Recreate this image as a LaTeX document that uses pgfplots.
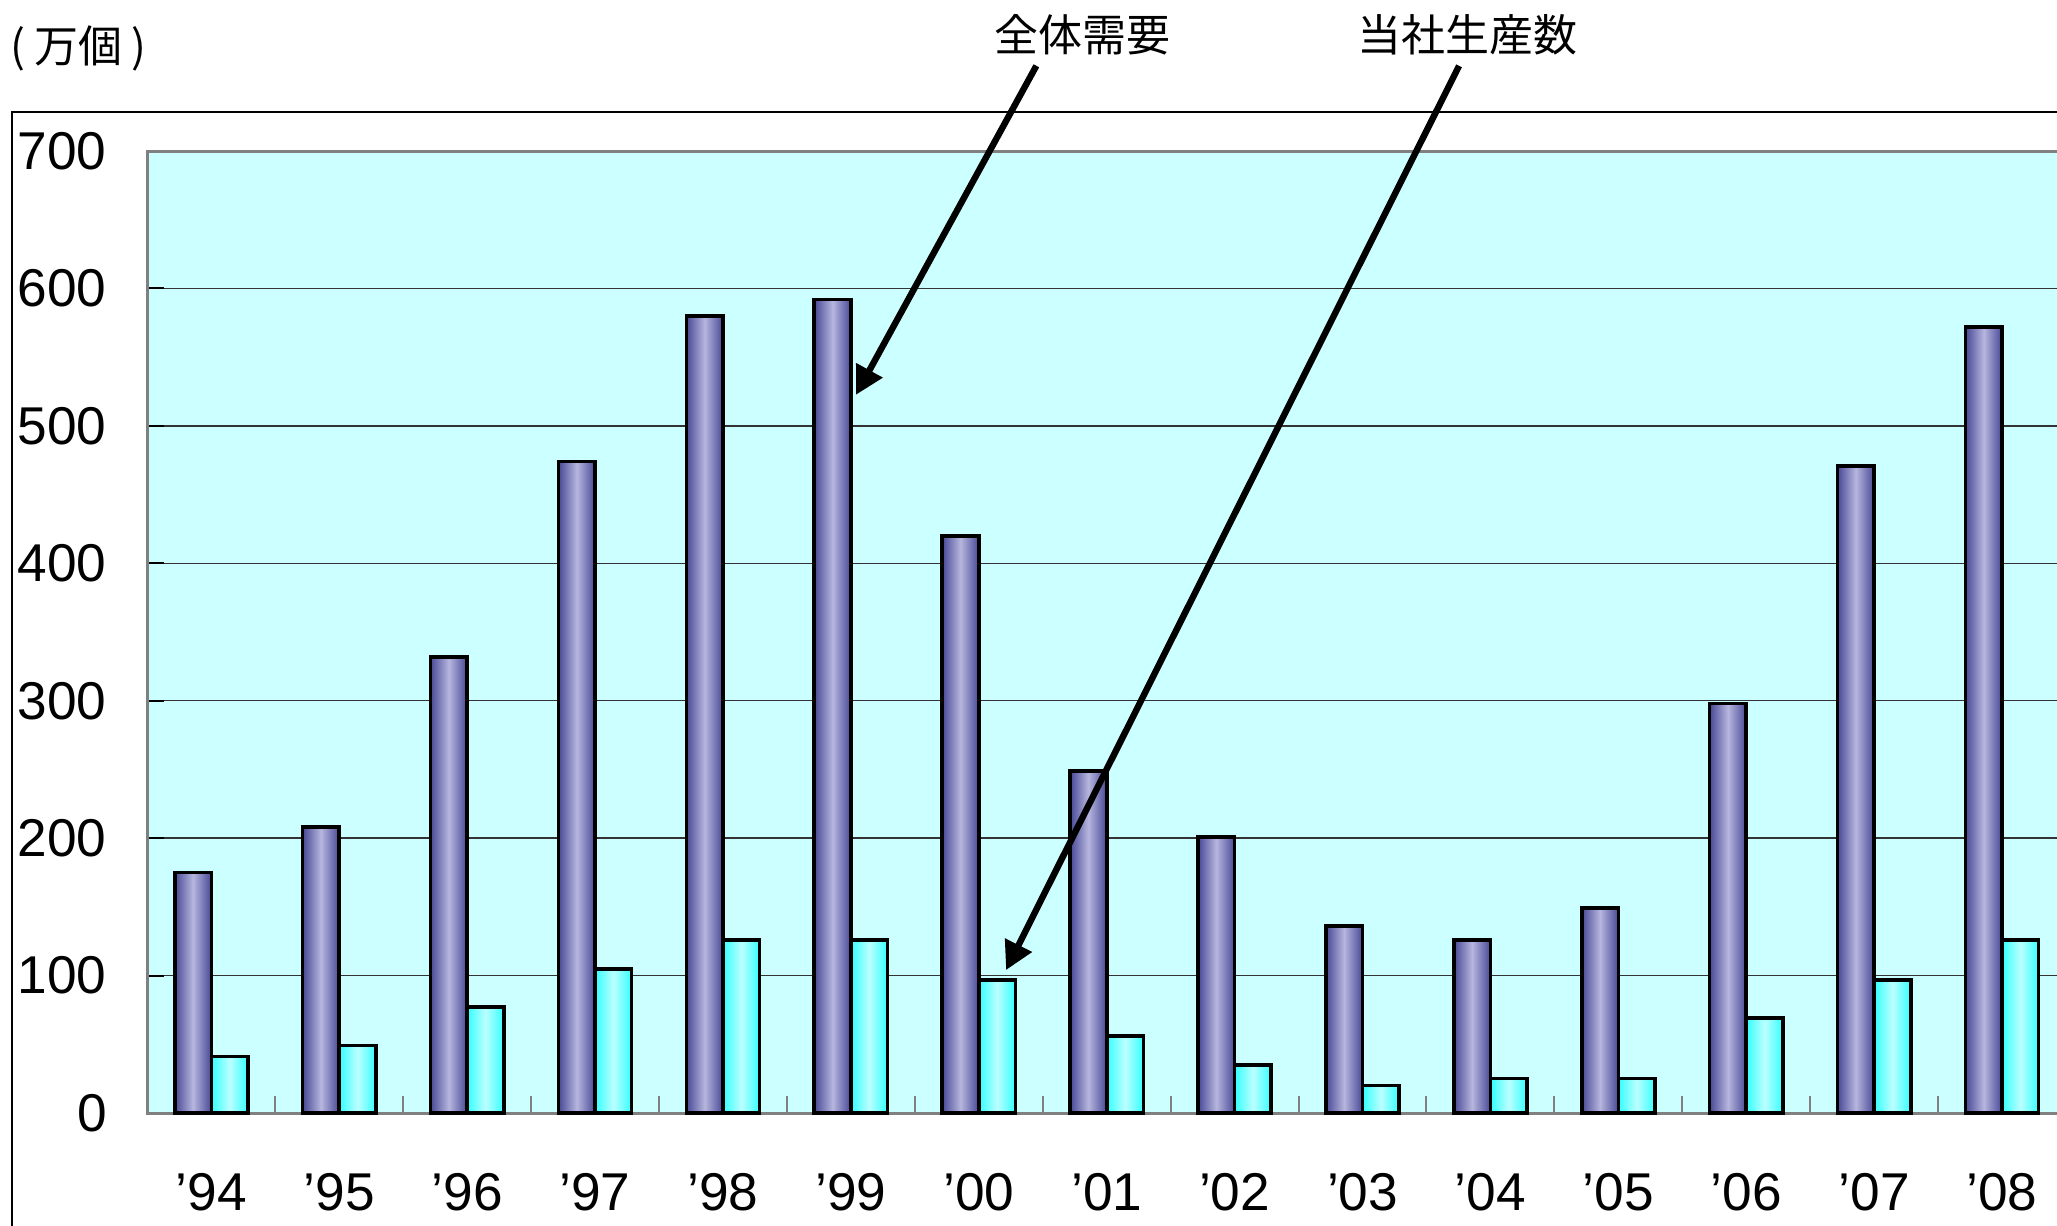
\documentclass[border=0pt]{standalone}
\usepackage{pgfplots}
\pgfplotsset{compat=1.18}
\usepackage{fontspec}
\setmainfont{Liberation Sans}
\newfontfamily\jp{Noto Sans CJK JP}
\usetikzlibrary{arrows.meta}
\definecolor{demdark}{HTML}{484896}
\definecolor{demlight}{HTML}{B6B6DE}
\definecolor{prodedge}{HTML}{33FFFF}
\definecolor{prodlight}{HTML}{BBFFFF}
\definecolor{plotbg}{HTML}{CCFFFF}
\pgfplotsset{
  dem/.style={ybar, bar width=9.15pt, bar shift=-4.575pt, draw=black, line width=0.9pt,
    left color=demdark, right color=demdark, middle color=demlight},
  prod/.style={ybar, bar width=9.15pt, bar shift=4.575pt, draw=black, line width=0.9pt,
    left color=prodedge, right color=prodedge, middle color=prodlight},
}
\newcommand{\dbar}[2]{\addplot[dem] coordinates {(#1,#2)};}
\newcommand{\pbar}[2]{\addplot[prod] coordinates {(#1,#2)};}
\begin{document}
\begin{tikzpicture}[x=0.25pt,y=0.25pt]
\path[use as bounding box] (0,0) rectangle (2057,1225);
\clip (0,0) rectangle (2057,1225);
\draw[black, line width=0.5pt] (12,-10) -- (12,1113) -- (2090,1113);
\node[font=\jp\fontsize{11}{13}\selectfont, inner sep=0pt, anchor=west] at (10,1177) {(\kern2.2pt 万個\kern2.2pt)};
\node[font=\jp\fontsize{11}{13}\selectfont, inner sep=0pt] at (1082,1190) {全体需要};
\node[font=\jp\fontsize{11}{13}\selectfont, inner sep=0pt] at (1467,1190) {当社生産数};
\begin{axis}[
  at={(36.85pt,28pt)}, anchor=south west,
  scale only axis, width=479.65pt, height=240.5pt,
  xmin=-0.5, xmax=14.5, ymin=0, ymax=700,
  axis background/.style={fill=plotbg},
  axis line style={draw=gray, line width=0.75pt},
  tick pos=left,
  ytick={0,100,...,700},
  ymajorgrids, grid style={black!80, line width=0.35pt},
  major tick length=4.25pt,
  ytick style={black, line width=0.5pt},
  xtick={0,...,14},
  xticklabels={’94,’95,’96,’97,’98,’99,’00,’01,’02,’03,’04,’05,’06,’07,’08},
  major x tick style={draw=none},
  minor xtick={0.5,1.5,...,13.5},
  minor x tick style={gray, line width=0.5pt},
  minor tick length=4.25pt,
  tick label style={font=\fontsize{13.3}{16}\selectfont},
  yticklabel style={anchor=east, inner sep=0pt, xshift=-10pt},
  xticklabel style={anchor=north, inner sep=0pt, yshift=-15pt},
  /pgf/number format/assume math mode=true,
  clip=false,
]
% overall demand
\dbar{0}{175} \dbar{1}{208} \dbar{2}{332} \dbar{3}{474} \dbar{4}{580}
\dbar{5}{592} \dbar{6}{420} \dbar{7}{249} \dbar{8}{201} \dbar{9}{136}
\dbar{10}{126} \dbar{11}{149} \dbar{12}{298} \dbar{13}{471} \dbar{14}{572}
% own production
\pbar{0}{41} \pbar{1}{49} \pbar{2}{77} \pbar{3}{105} \pbar{4}{126}
\pbar{5}{126} \pbar{6}{97} \pbar{7}{56} \pbar{8}{35} \pbar{9}{20}
\pbar{10}{25} \pbar{11}{25} \pbar{12}{69} \pbar{13}{97} \pbar{14}{126}
\draw[line width=1.6pt, -{Triangle[length=7pt, width=7.2pt]}] (axis cs:6.45,762) -- (axis cs:5.04,522.6);
\draw[line width=1.6pt, -{Triangle[length=7pt, width=7.2pt]}] (axis cs:9.755,762) -- (axis cs:6.213,104);
\end{axis}
\end{tikzpicture}
\end{document}
